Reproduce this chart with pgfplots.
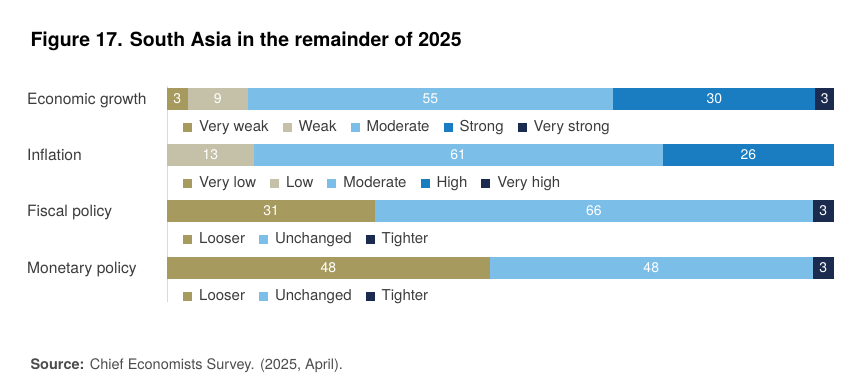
\documentclass[border=0pt]{standalone}
\usepackage{pgfplots}
\pgfplotsset{compat=1.18}
\usepackage{fontspec}
\setmainfont{TeX Gyre Heros}
\definecolor{cvw}{RGB}{167,154,95}
\definecolor{cw}{RGB}{196,193,168}
\definecolor{cm}{RGB}{123,190,232}
\definecolor{cs}{RGB}{27,125,193}
\definecolor{cvs}{RGB}{27,42,79}
\definecolor{txt}{RGB}{60,60,60}
\pgfplotsset{
  rowgeom/.style={
    scale only axis, width=667pt, height=22pt,
    xmin=0, xmax=100, ymin=-0.5, ymax=0.5,
    hide axis, clip=false,
  },
  barrow/.style={
    rowgeom,
    xbar stacked, bar width=22pt,
    every axis plot/.append style={draw=none},
    legend columns=-1,
    legend image code/.code={\fill[##1] (0pt,-4.5pt) rectangle (9pt,4.5pt); \path (14pt,0pt);},
    legend style={at={(0,0)}, anchor=west, xshift=16pt, yshift=-17pt, draw=none, fill=none, inner sep=0pt, font=\fontsize{15}{16}\selectfont, text=txt, /tikz/every even column/.append style={column sep=12pt}},
  },
  lblplot/.style={draw=none, mark=none, point meta=explicit symbolic,
      nodes near coords,
      every node near coord/.style={anchor=center, text=white, font=\fontsize{14}{14}\selectfont}},
}
\begin{document}
\begin{tikzpicture}
\path[use as bounding box] (0pt,0pt) rectangle (853pt,-376pt);
\node[anchor=base west, font=\bfseries\fontsize{19.5}{22}\selectfont, text=black] at (27pt,-46pt) {Figure 17. South Asia in the remainder of 2025};
\draw[black!15, line width=0.8pt] (167pt,-86pt) -- (167pt,-302pt);
\foreach \lab/\yy in {Economic growth/99, Inflation/155, Fiscal policy/211, Monetary policy/268}{
  \node[anchor=base west, inner sep=0pt, font=\fontsize{15.6}{16}\selectfont, text=txt] at (27pt,-\yy pt-5.5pt) {\lab};
}
% Economic growth
\begin{axis}[barrow, at={(167pt,-99pt)}, anchor=west]
\addplot[fill=cvw] coordinates {(3.1,0)}; \addlegendentry{Very weak}
\addplot[fill=cw] coordinates {(9.0,0)}; \addlegendentry{Weak}
\addplot[fill=cm] coordinates {(54.8,0)}; \addlegendentry{Moderate}
\addplot[fill=cs] coordinates {(30.3,0)}; \addlegendentry{Strong}
\addplot[fill=cvs] coordinates {(2.8,0)}; \addlegendentry{Very strong}
\end{axis}
\begin{axis}[rowgeom, at={(167pt,-99pt)}, anchor=west]
\addplot[lblplot] coordinates {(1.55,0) [3] (7.6,0) [9] (39.5,0) [55] (82.05,0) [30] (98.6,0) [3]};
\end{axis}
% Inflation
\begin{axis}[barrow, at={(167pt,-155pt)}, anchor=west]
\addlegendimage{fill=cvw, draw=none} \addlegendentry{Very low}
\addplot[fill=cw] coordinates {(13.0,0)}; \addlegendentry{Low}
\addplot[fill=cm] coordinates {(61.3,0)}; \addlegendentry{Moderate}
\addplot[fill=cs] coordinates {(25.7,0)}; \addlegendentry{High}
\addlegendimage{fill=cvs, draw=none} \addlegendentry{Very high}
\end{axis}
\begin{axis}[rowgeom, at={(167pt,-155pt)}, anchor=west]
\addplot[lblplot] coordinates {(6.5,0) [13] (43.65,0) [61] (87.15,0) [26]};
\end{axis}
% Fiscal policy
\begin{axis}[barrow, at={(167pt,-211pt)}, anchor=west]
\addplot[fill=cvw] coordinates {(31.2,0)}; \addlegendentry{Looser}
\addplot[fill=cm] coordinates {(65.6,0)}; \addlegendentry{Unchanged}
\addplot[fill=cvs] coordinates {(3.2,0)}; \addlegendentry{Tighter}
\end{axis}
\begin{axis}[rowgeom, at={(167pt,-211pt)}, anchor=west]
\addplot[lblplot] coordinates {(15.6,0) [31] (64.0,0) [66] (98.4,0) [3]};
\end{axis}
% Monetary policy
\begin{axis}[barrow, at={(167pt,-268pt)}, anchor=west]
\addplot[fill=cvw] coordinates {(48.4,0)}; \addlegendentry{Looser}
\addplot[fill=cm] coordinates {(48.4,0)}; \addlegendentry{Unchanged}
\addplot[fill=cvs] coordinates {(3.2,0)}; \addlegendentry{Tighter}
\end{axis}
\begin{axis}[rowgeom, at={(167pt,-268pt)}, anchor=west]
\addplot[lblplot] coordinates {(24.2,0) [48] (72.6,0) [48] (98.4,0) [3]};
\end{axis}
\node[anchor=base west, font=\fontsize{14.5}{16}\selectfont, text=black!70] at (27pt,-369pt) {\textbf{Source:} Chief Economists Survey. (2025, April).};
\end{tikzpicture}
\end{document}
